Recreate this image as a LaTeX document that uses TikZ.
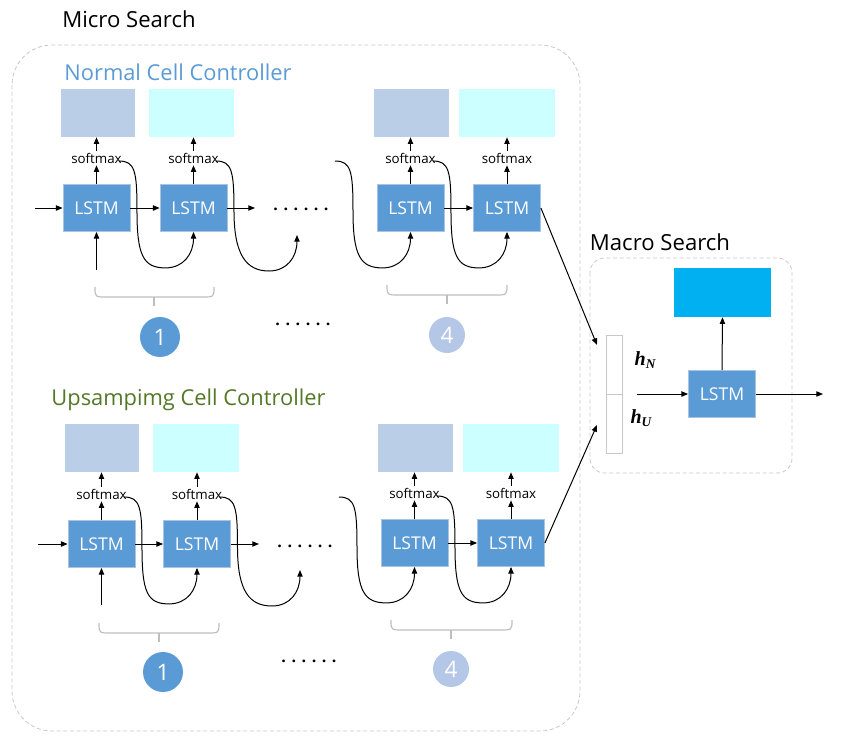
\documentclass[tikz,border=0pt]{standalone}
\usepackage{fontspec}
\setmainfont{Open Sans}
\newfontfamily\hfont{Liberation Serif}
\usetikzlibrary{arrows.meta,calc}
\definecolor{lstmblue}{RGB}{91,155,213}
\definecolor{lstmedge}{RGB}{170,195,225}
\definecolor{steelbox}{RGB}{187,206,231}
\definecolor{cyanbox}{RGB}{204,255,255}
\definecolor{macroblue}{RGB}{0,176,240}
\definecolor{titleblue}{RGB}{91,155,213}
\definecolor{titlegreen}{RGB}{84,120,40}
\definecolor{paleblue}{RGB}{180,199,231}
\definecolor{framegray}{RGB}{200,200,200}
\definecolor{bracegray}{RGB}{190,190,190}
\newcommand\wig[2]{\draw[arr] (#1) .. controls ($(#1)+(16,0)$) and ($(#1)+(18,10)$) .. ($(#1)+(18,50)$) .. controls ($(#1)+(18,95)$) and ($(#2)+(-50,36)$) .. ($(#2)+(-28,36)$) .. controls ($(#2)+(-10,36)$) and ($(#2)+(0,22)$) .. (#2);}
\newcommand\mybrace[4]{\draw[bracegray,line width=0.9pt] (#1,#3) .. controls (#1,#3+10) .. (#1+12,#3+10) -- (#2-12,#3+10) .. controls (#2,#3+10) .. (#2,#3);
\draw[bracegray,line width=0.9pt] (#4,#3+10) -- (#4,#3+19);}
\begin{document}
\begin{tikzpicture}[x=0.75pt,y=-0.75pt,
  arr/.style={line width=0.75pt,-{Triangle[length=5pt,width=4pt]}},
  lstm/.style={draw=lstmedge,line width=0.6pt,fill=lstmblue,text=white,minimum width=0.75*67pt,minimum height=0.75*47pt,inner sep=0pt,font=\fontsize{13.2}{15}\selectfont},
  outbox/.style={minimum height=0.75*48pt,inner sep=0pt},
  sm/.style={inner sep=0pt,minimum height=0.75*14pt,font=\fontsize{10}{11}\selectfont},
  numc/.style={circle,minimum size=0.75*40pt,inner sep=0pt,text=white,font=\fontsize{17}{18}\selectfont},
  dots/.style={font=\bfseries\fontsize{12}{14}\selectfont},
  title/.style={font=\fontsize{16.6}{19}\selectfont},
  hlab/.style={font=\hfont\bfseries\itshape\fontsize{15}{17}\selectfont},
  cell/.style={draw=framegray,line width=0.75pt,minimum width=0.75*16pt,minimum height=0.75*59pt,inner sep=0pt}]
\useasboundingbox (0,0) rectangle (844,746);
% frames
\draw[framegray,line width=0.6pt,densely dashed,rounded corners=30pt] (12,45) rectangle (580,731);
\draw[framegray,line width=0.6pt,densely dashed,rounded corners=11pt] (590,258) rectangle (792,473);
\node[title] (tmicro) at (129,19) {Micro Search};
\node[title] (tmacro) at (660,242) {Macro Search};
\node[title,font=\fontsize{16.4}{19}\selectfont,text=titleblue] (tnormal) at (178,72) {Normal Cell Controller};
\node[title,font=\fontsize{16.4}{19}\selectfont,text=titlegreen] (tup) at (188.5,400) {Upsampimg Cell Controller};

% ---------- Normal cell row ----------
\node[lstm] (a1) at (96.5,208) {LSTM};
\node[lstm] (a2) at (193.5,208) {LSTM};
\node[lstm] (a3) at (410.5,208) {LSTM};
\node[lstm] (a4) at (507,208) {LSTM};
\node[outbox,fill=steelbox,minimum width=0.75*74pt] (ab1) at (98,113) {};
\node[outbox,fill=cyanbox,minimum width=0.75*85pt] (ab2) at (191.5,113) {};
\node[outbox,fill=steelbox,minimum width=0.75*75pt] (ab3) at (411.5,113) {};
\node[outbox,fill=cyanbox,minimum width=0.75*96pt] (ab4) at (507,113) {};
\foreach \i in {1,...,4}{
  \node[sm] (as\i) at ($(a\i)+(0,-50)$) {softmax};
  \draw[arr] (a\i.north) -- (as\i.south);
  \draw[arr] (as\i.north) -- (as\i.north |- ab\i.south);
}
\coordinate (ain) at (35,208);
\coordinate (ainb) at (96.5,270);
\coordinate (aout) at (255,208);
\coordinate (ac2e) at (297,235);
\coordinate (ac3s) at (335,161);
\draw[arr] (ain) -- (a1.west);
\draw[arr] (ainb) -- (a1.south);
\draw[arr] (a1.east) -- (a2.west);
\draw[arr] (a2.east) -- (aout);
\draw[arr] (a3.east) -- (a4.west);
\coordinate (ac1s) at ($(as1.east)+(-3,3)$);
\coordinate (ac2s) at ($(as2.east)+(-3,3)$);
\coordinate (ac4s) at ($(as3.east)+(-3,3)$);
\wig{ac1s}{a2.south}
\wig{ac2s}{ac2e}
\wig{ac3s}{a3.south}
\wig{ac4s}{a4.south}
\node[dots] (ad1) at (301,209) {. . . . . .};
\node[dots] (ad2) at (303,324) {. . . . . .};
\mybrace{95}{214}{287}{154}
\mybrace{387}{507}{285}{447}
\node[numc,fill=lstmblue] (an1) at (160,337) {1};
\node[numc,fill=paleblue,minimum size=0.75*36pt] (an4) at (447,335) {4};

% ---------- Upsampling cell row ----------
\node[lstm] (b1) at (101.5,544) {LSTM};
\node[lstm] (b2) at (197,544) {LSTM};
\node[lstm] (b3) at (414.5,543) {LSTM};
\node[lstm] (b4) at (511,543) {LSTM};
\node[outbox,fill=steelbox,minimum width=0.75*74pt] (bb1) at (102,448) {};
\node[outbox,fill=cyanbox,minimum width=0.75*86pt] (bb2) at (196,448) {};
\node[outbox,fill=steelbox,minimum width=0.75*75pt] (bb3) at (415.5,448) {};
\node[outbox,fill=cyanbox,minimum width=0.75*96pt] (bb4) at (511,448) {};
\foreach \i in {1,...,4}{
  \node[sm] (bs\i) at ($(b\i)+(0,-50)$) {softmax};
  \draw[arr] (b\i.north) -- (bs\i.south);
  \draw[arr] (bs\i.north) -- (bs\i.north |- bb\i.south);
}
\coordinate (bin) at (38,544);
\coordinate (binb) at (101.5,605);
\coordinate (bout) at (259,544);
\coordinate (bc2e) at (300,570);
\coordinate (bc3s) at (339,497);
\draw[arr] (bin) -- (b1.west);
\draw[arr] (binb) -- (b1.south);
\draw[arr] (b1.east) -- (b2.west);
\draw[arr] (b2.east) -- (bout);
\draw[arr] (b3.east) -- (b4.west);
\coordinate (bc1s) at ($(bs1.east)+(-3,3)$);
\coordinate (bc2s) at ($(bs2.east)+(-3,3)$);
\coordinate (bc4s) at ($(bs3.east)+(-3,3)$);
\wig{bc1s}{b2.south}
\wig{bc2s}{bc2e}
\wig{bc3s}{b3.south}
\wig{bc4s}{b4.south}
\node[dots] (bd1) at (305,546) {. . . . . .};
\node[dots] (bd2) at (309,661) {. . . . . .};
\mybrace{99}{219}{623}{159}
\mybrace{391}{512}{620}{451}
\node[numc,fill=lstmblue] (bn1) at (163,672) {1};
\node[numc,fill=paleblue,minimum size=0.75*36pt] (bn4) at (451,669) {4};

% ---------- Macro search ----------
\node[fill=macroblue,minimum width=0.75*97pt,minimum height=0.75*49pt,inner sep=0pt] (mb) at (722.5,292.5) {};
\node[lstm] (ml) at (722,394) {LSTM};
\node[cell] (hn) at (614,364.5) {};
\node[cell] (hu) at (614,423.5) {};
\node[hlab] (lhn) at (645,360) {h\raisebox{-0.4ex}{\fontsize{10}{11}\selectfont N}};
\node[hlab] (lhu) at (641,418) {h\raisebox{-0.4ex}{\fontsize{10}{11}\selectfont U}};
\coordinate (min) at (637,394);
\coordinate (mout) at (823,394);
\draw[arr] (min) -- (ml.west);
\draw[arr] (ml.east) -- (mout);
\draw[arr] (ml.north) -- (mb.south);
\coordinate (tN) at (597,345);
\coordinate (tU) at (597,425);
\draw[arr] (a4.east) -- (tN);
\draw[arr] (b4.east) -- (tU);
\end{tikzpicture}
\end{document}
